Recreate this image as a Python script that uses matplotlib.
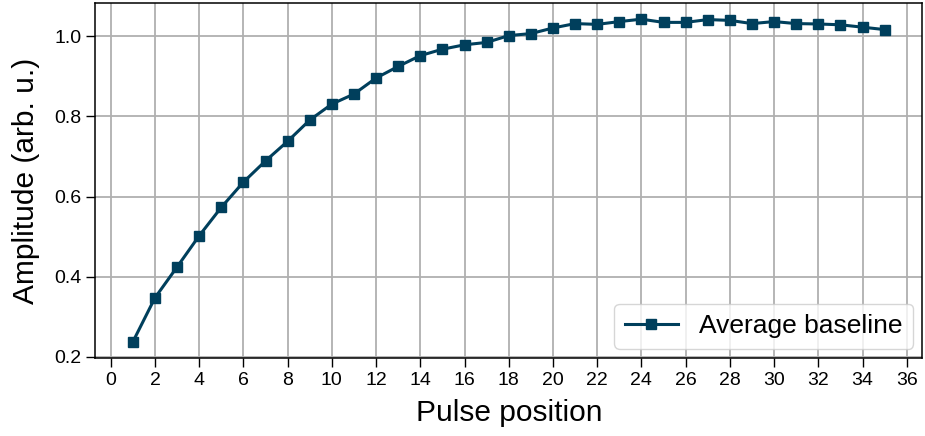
import numpy as np
import matplotlib
matplotlib.use("Agg")
import matplotlib.pyplot as plt

plt.rcParams['font.family'] = ['Liberation Sans', 'DejaVu Sans']

# Pulse positions and averaged baseline amplitude
pulse = list(range(1, 36))
amplitude = [0.237, 0.347, 0.424, 0.502, 0.573, 0.636, 0.689, 0.738, 0.791, 0.831,
             0.856, 0.896, 0.925, 0.952, 0.968, 0.979, 0.985, 1.002, 1.007, 1.021,
             1.032, 1.030, 1.037, 1.043, 1.035, 1.035, 1.042, 1.040, 1.032, 1.037,
             1.032, 1.031, 1.029, 1.023, 1.017]

fig, ax = plt.subplots(figsize=(9.25, 4.36), dpi=100)
fig.subplots_adjust(left=0.103, right=0.997, top=0.993, bottom=0.179)

ax.plot(pulse, amplitude, color='#003f5c', lw=2.2, marker='s', ms=6.5,
        label='Average baseline')

ax.set_xticks(np.arange(0, 37, 2))
ax.set_yticks([0.2, 0.4, 0.6, 0.8, 1.0])
ax.grid(True, color='#b0b0b0', lw=1.3)
ax.set_axisbelow(True)
ax.tick_params(labelsize=14, length=6.5, width=1)
for s in ax.spines.values():
    s.set_linewidth(1.1)

ax.set_xlabel('Pulse position', fontsize=21.5, labelpad=7)
ax.set_ylabel('Amplitude (arb. u.)', fontsize=21.5, labelpad=10)

ax.legend(loc='lower right', fontsize=19, handlelength=2.0,
          borderaxespad=0.35)

fig.savefig('out.png')
